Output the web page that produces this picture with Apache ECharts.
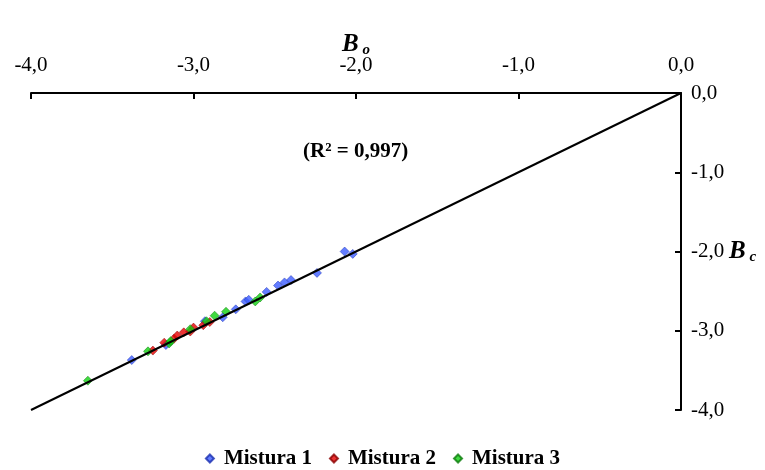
<!DOCTYPE html>
<html>
<head>
<meta charset="utf-8">
<script src="https://cdn.jsdelivr.net/npm/echarts@6/dist/echarts.min.js"></script>
<style>
  html, body { margin: 0; padding: 0; background: #fff; }
  #chart { width: 765px; height: 470px; }
</style>
</head>
<body>
<div id="chart"></div>
<script>
// Observed B_o (x) vs calculated B_c (y) for the three mixtures
const mistura1 = [
  [-3.38, -3.37], [-3.17, -3.18], [-2.93, -2.88], [-2.82, -2.83], [-2.74, -2.73],
  [-2.68, -2.63], [-2.66, -2.61], [-2.55, -2.51], [-2.48, -2.43], [-2.44, -2.39],
  [-2.40, -2.36], [-2.24, -2.27], [-2.07, -2.00], [-2.02, -2.03]
];
const mistura2 = [
  [-3.25, -3.25], [-3.18, -3.15], [-3.12, -3.10], [-3.10, -3.06], [-3.06, -3.02],
  [-3.02, -3.01], [-3.00, -2.96], [-2.94, -2.93], [-2.90, -2.89]
];
const mistura3 = [
  [-3.65, -3.63], [-3.28, -3.26], [-3.15, -3.16], [-3.14, -3.13], [-3.02, -2.98],
  [-2.92, -2.88], [-2.87, -2.81], [-2.80, -2.76], [-2.62, -2.63], [-2.59, -2.58]
];
// Regression line through the origin
const fitLine = [[-4, -4], [0, 0]];
const seriesNames = ['Mistura 1', 'Mistura 2', 'Mistura 3'];
const r2Label = '(R² = 0,997)';

const serif = '"Liberation Serif", "Times New Roman", serif';
const fmt = v => v.toFixed(1).replace('.', ',');

const chart = echarts.init(document.getElementById('chart'));
const marker = (name, data, color, border) => ({
  name, type: 'scatter', data, symbol: 'diamond', symbolSize: 9, z: 2,
  itemStyle: { color, borderColor: border, borderWidth: 0.6 }
});
const axisName = {
  b: { fontFamily: serif, fontSize: 25, fontWeight: 'bold', fontStyle: 'italic', color: '#000' },
  s: { fontFamily: serif, fontSize: 15, fontWeight: 'bold', fontStyle: 'italic', color: '#000', padding: [12, 0, 0, 0] }
};

chart.setOption({
  animation: false,
  grid: { left: 31, right: 84, top: 93, bottom: 60 },
  xAxis: {
    type: 'value', position: 'top', min: -4, max: 0, interval: 1,
    name: '{b|B}{s| o}', nameLocation: 'middle', nameGap: 35, nameMoveOverlap: false,
    nameTextStyle: { rich: axisName },
    axisLine: { onZero: false, lineStyle: { color: '#000', width: 2 } },
    axisTick: { inside: true, length: 6, lineStyle: { color: '#000', width: 2 } },
    axisLabel: { formatter: fmt, fontFamily: serif, fontSize: 21, color: '#000', margin: 17 },
    splitLine: { show: false }
  },
  yAxis: {
    type: 'value', position: 'right', min: -4, max: 0, interval: 1,
    name: '{b|B}{s| c}', nameLocation: 'middle', nameGap: 48, nameRotate: 0, nameMoveOverlap: false,
    nameTextStyle: { align: 'left', rich: axisName },
    axisLine: { onZero: false, lineStyle: { color: '#000', width: 2 } },
    axisTick: { inside: true, length: 6, lineStyle: { color: '#000', width: 2 } },
    axisLabel: { formatter: fmt, fontFamily: serif, fontSize: 21, color: '#000', margin: 10 },
    splitLine: { show: false }
  },
  legend: {
    top: 443, left: 'center', itemWidth: 8, itemHeight: 8, itemGap: 17,
    data: seriesNames.map(n => ({ name: n, icon: 'diamond' })),
    textStyle: { fontFamily: serif, fontSize: 21, fontWeight: 'bold', color: '#000', padding: [0, 0, 0, 5] }
  },
  graphic: [{
    type: 'text', left: 303, top: 141,
    style: { text: r2Label, font: 'bold 21px ' + serif, fill: '#000' }
  }],
  series: [
    marker(seriesNames[0], mistura1, '#3c5cff', '#1a2fb0'),
    marker(seriesNames[1], mistura2, '#e60000', '#8a0000'),
    marker(seriesNames[2], mistura3, '#12d012', '#0a7a0a'),
    {
      type: 'line', data: fitLine, symbol: 'none', z: 5, silent: true,
      lineStyle: { color: '#000', width: 2 }
    }
  ]
});
</script>
</body>
</html>
